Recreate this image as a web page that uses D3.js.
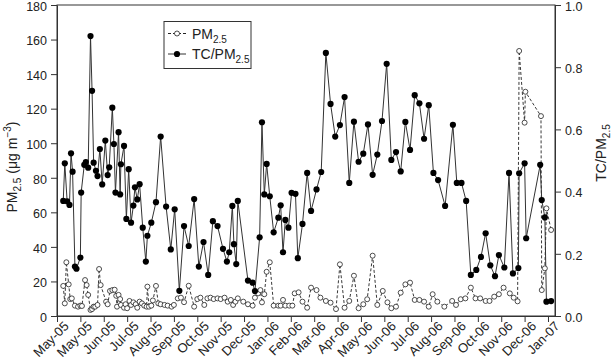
<!DOCTYPE html>
<html><head><meta charset="utf-8">
<script src="https://cdn.jsdelivr.net/npm/d3@7"></script>
<style>body{margin:0;background:#fff}svg{display:block;font-family:"Liberation Sans",Arial,sans-serif}</style>
</head><body><svg id="c" width="612" height="362"></svg>
<script>
const startDate = new Date(2005, 4, 1);
const tickLabels = ["May-05","May-05","Jun-05","Jul-05","Aug-05","Sep-05","Oct-05","Nov-05","Dec-05","Jan-06","Feb-06","Mar-06","Apr-06","May-06","Jun-06","Jul-06","Aug-06","Sep-06","Oct-06","Nov-06","Dec-06","Jan-07"];
const leftTicks = [0,20,40,60,80,100,120,140,160,180];
const rightTicks = [0,0.2,0.4,0.6,0.8,1.0];

// TC/PM2.5 ratio: sampling day (days since 1 May 2005) and value
const tcDay = [8,10,13,16,18,20,23,25,30,31,
  35,37,40,43,45,47,50,52,55,58,
  62,65,67,71,73,75,79,81,82,86,
  89,92,95,98,100,103,106,110,114,116,
  121,127,133,140,146,151,157,163,169,176,
  182,188,194,200,206,213,218,221,225,227,
  230,232,245,251,254,260,263,266,269,273,
  278,284,287,290,293,297,301,306,309,315,
  321,326,333,339,345,351,357,363,369,375,
  381,387,393,399,405,411,417,423,429,435,
  441,447,453,459,465,471,477,483,489,498,
  508,513,519,525,531,538,544,550,556,562,
  567,574,580,585,592,593,600,602,620,622,
  626,628,634];
const tcRatio = [0.370,0.491,0.369,0.357,0.523,0.464,0.159,0.152,0.188,0.397,
  0.486,0.495,0.477,0.900,0.724,0.493,0.467,0.450,0.537,0.423,
  0.564,0.453,0.478,0.670,0.553,0.397,0.591,0.391,0.488,0.547,
  0.312,0.472,0.300,0.355,0.414,0.375,0.424,0.284,0.175,0.258,
  0.300,0.366,0.577,0.352,0.214,0.343,0.081,0.289,0.225,0.376,
  0.159,0.238,0.132,0.305,0.289,0.216,0.175,0.205,0.354,0.231,
  0.167,0.370,0.114,0.107,0.080,0.253,0.623,0.391,0.489,0.385,
  0.269,0.316,0.356,0.205,0.309,0.284,0.396,0.393,0.186,0.296,
  0.460,0.338,0.407,0.463,0.846,0.682,0.577,0.614,0.704,0.428,
  0.625,0.496,0.522,0.616,0.454,0.519,0.627,0.811,0.502,0.527,
  0.465,0.624,0.534,0.710,0.684,0.570,0.678,0.460,0.437,0.354,
  0.615,0.428,0.428,0.370,0.132,0.148,0.190,0.266,0.163,0.128,
  0.196,0.156,0.460,0.137,0.154,0.459,0.491,0.250,0.486,0.373,
  0.317,0.046,0.048];

// PM2.5 concentration (ug m-3)
const pmDay = [8,10,12,15,17,19,23,27,30,32,
  36,38,40,43,45,47,49,52,54,56,
  63,65,68,71,74,76,77,79,81,82,
  86,88,90,93,95,98,101,103,106,109,
  112,115,116,118,121,123,127,130,133,138,
  142,147,150,155,159,163,169,176,180,184,
  189,193,197,201,206,210,215,219,223,226,
  229,232,239,245,251,254,258,261,263,266,
  269,273,278,284,287,290,293,298,302,305,
  310,315,321,326,333,338,345,351,358,363,
  369,375,381,387,393,398,405,411,418,424,
  429,435,441,447,453,459,465,471,477,482,
  488,497,507,512,518,524,531,537,543,550,
  555,561,567,573,581,586,591,593,600,601,
  621,622,626,628,634];
const pmValue = [17.4,7.3,31.1,18.3,9.8,10.2,6,5.4,6,5.8,
  20.8,17.9,12.2,3.5,4,5.4,5.4,6.4,27.2,17.9,
  8.3,6.8,14.5,15,15.2,11.7,5.4,12.2,9.8,6.4,
  4.8,6.8,4.5,8.7,6.4,7.9,6.8,4.8,8.3,7.3,
  6,5.4,17,5.4,6,9,17.4,7.3,6.8,6.4,
  6,5.4,6.4,10.2,10.6,8,17.5,5.4,9.8,10.6,
  6.4,10.2,10.6,9.8,10.2,9.8,10.6,8.3,9.3,6.4,
  8.3,10.2,8.3,6.8,6,10.6,13.1,15,7.9,12.6,
  25.6,31.1,6,6,6,9.3,6,6,6,13.1,
  13.7,8.3,4.8,16.4,15,10.6,8.7,7.7,4,29.9,
  4.8,8.7,23.3,4.5,6.8,9.7,34.9,6.4,14.5,7.9,
  4.5,5.4,13.5,18.3,19.3,9.3,9.3,8.3,5.4,12.6,
  8.3,5.4,8.7,6.4,9.7,10.2,16.4,10.2,10.2,8.7,
  8.7,11.2,12.6,16.4,13.1,10.6,8.5,153.4,111.9,129.8,
  115.7,15,27.6,62.3,49.8];

const L = 57, R = 555, T = 5, B = 316;
const svg = d3.select("#c");
const dayToDate = d => d3.timeDay.offset(startDate, d);
const x = d3.scaleTime().domain([startDate, dayToDate(639)]).range([L, R]);
const yL = d3.scaleLinear().domain([0, 180]).range([B, T]);
const yR = d3.scaleLinear().domain([0, 1]).range([B, T]);

// frame
svg.append("rect").attr("x", L).attr("y", T).attr("width", R - L).attr("height", B - T)
  .attr("fill", "none").attr("stroke", "#333").attr("stroke-width", 1);

const tickDates = tickLabels.map((_, i) => dayToDate(i * 30));
const xAxis = svg.append("g").attr("transform", `translate(0,${B})`)
  .call(d3.axisBottom(x).tickValues(tickDates).tickFormat((d, i) => tickLabels[i]).tickSize(6).tickSizeOuter(0));
xAxis.selectAll("text").attr("text-anchor", "end").attr("dy", null).attr("y", null)
  .attr("transform", "translate(12,11) rotate(-45)");

const lAxis = svg.append("g").attr("transform", `translate(${L},0)`)
  .call(d3.axisLeft(yL).tickValues(leftTicks).tickSize(6).tickSizeOuter(0).tickPadding(4));
const rAxis = svg.append("g").attr("transform", `translate(${R},0)`)
  .call(d3.axisRight(yR).tickValues(rightTicks).tickFormat(d3.format(".1f")).tickSize(6).tickSizeOuter(0).tickPadding(4));
[xAxis, lAxis, rAxis].forEach(a => {
  a.selectAll("text").attr("font-size", 13).attr("fill", "#222").attr("font-family", "Liberation Sans, Arial, sans-serif");
  a.selectAll("line").attr("stroke", "#333");
  a.select(".domain").attr("stroke", "#333");
});
[lAxis, rAxis].forEach(a => a.selectAll("text").attr("font-size", 12.5).attr("dy", "0.42em"));

// axis titles
const lt = svg.append("text").attr("transform", "translate(17,167) rotate(-90)")
  .attr("text-anchor", "middle").attr("font-size", 14).attr("fill", "#222");
lt.append("tspan").text("PM");
lt.append("tspan").attr("font-size", 10).attr("dy", 4).text("2.5");
lt.append("tspan").attr("dy", -4).text(" (μg m");
lt.append("tspan").attr("font-size", 10).attr("dy", -6).text("−3");
lt.append("tspan").attr("dy", 6).text(")");

const rt = svg.append("text").attr("transform", "translate(606,153) rotate(-90)")
  .attr("text-anchor", "middle").attr("font-size", 14).attr("fill", "#222");
rt.append("tspan").text("TC/PM");
rt.append("tspan").attr("font-size", 10).attr("dy", 4).text("2.5");

const pmData = pmDay.map((d, i) => ({ date: dayToDate(d), v: pmValue[i] }));
const tcData = tcDay.map((d, i) => ({ date: dayToDate(d), v: tcRatio[i] }));

// PM2.5 dashed series
svg.append("path").datum(pmData)
  .attr("d", d3.line().x(d => x(d.date)).y(d => yL(d.v)))
  .attr("fill", "none").attr("stroke", "#222").attr("stroke-width", 0.9).attr("stroke-dasharray", "3,2");
// TC/PM2.5 solid series
svg.append("path").datum(tcData)
  .attr("d", d3.line().x(d => x(d.date)).y(d => yR(d.v)))
  .attr("fill", "none").attr("stroke", "#333").attr("stroke-width", 1);

svg.append("g").selectAll("circle").data(pmData).join("circle")
  .attr("cx", d => x(d.date)).attr("cy", d => yL(d.v)).attr("r", 2.5)
  .attr("fill", "#fff").attr("stroke", "#222").attr("stroke-width", 0.8);
svg.append("g").selectAll("circle").data(tcData).join("circle")
  .attr("cx", d => x(d.date)).attr("cy", d => yR(d.v)).attr("r", 3.1)
  .attr("fill", "#000");

// legend
const lg = svg.append("g");
lg.append("rect").attr("x", 164).attr("y", 21.5).attr("width", 87).attr("height", 47)
  .attr("fill", "#fff").attr("stroke", "#333").attr("stroke-width", 1);
lg.append("line").attr("x1", 168).attr("x2", 186).attr("y1", 33.5).attr("y2", 33.5)
  .attr("stroke", "#222").attr("stroke-dasharray", "3,2");
lg.append("circle").attr("cx", 177).attr("cy", 33.5).attr("r", 2.5).attr("fill", "#fff").attr("stroke", "#222").attr("stroke-width", 0.8);
lg.append("line").attr("x1", 168).attr("x2", 186).attr("y1", 54).attr("y2", 54).attr("stroke", "#333");
lg.append("circle").attr("cx", 177).attr("cy", 54).attr("r", 3.1).attr("fill", "#000");
const l1 = lg.append("text").attr("x", 192).attr("y", 38.5).attr("font-size", 14).attr("fill", "#222");
l1.append("tspan").text("PM");
l1.append("tspan").attr("font-size", 10).attr("dy", 4).text("2.5");
const l2 = lg.append("text").attr("x", 192).attr("y", 59).attr("font-size", 14).attr("fill", "#222");
l2.append("tspan").text("TC/PM");
l2.append("tspan").attr("font-size", 10).attr("dy", 4).text("2.5");
</script></body></html>
